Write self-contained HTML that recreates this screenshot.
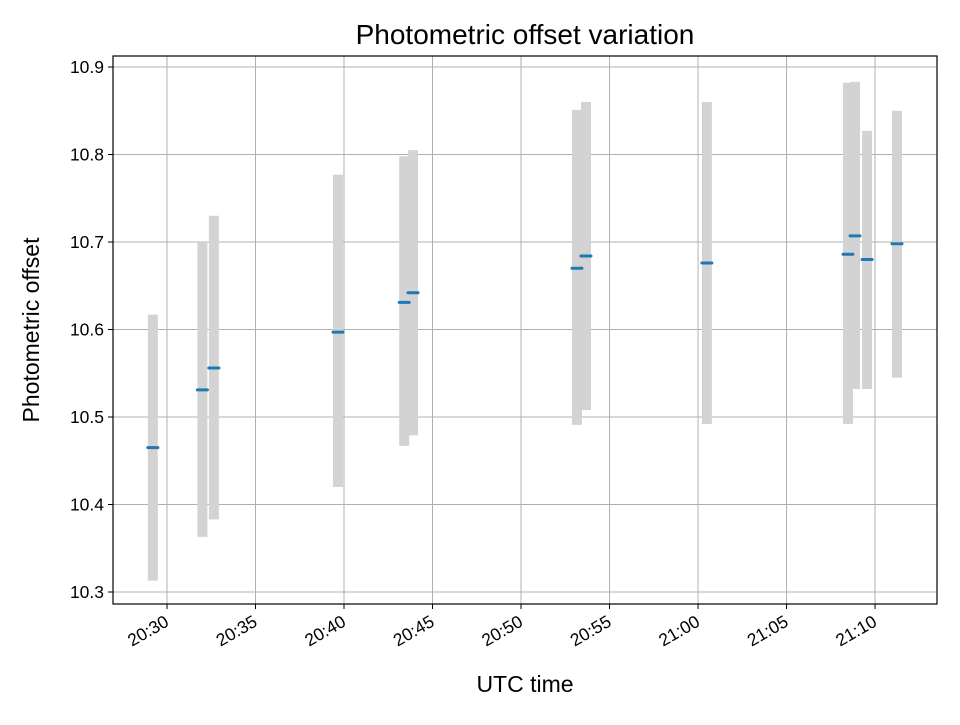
<!DOCTYPE html>
<html><head><meta charset="utf-8"><style>
body{margin:0;background:#fff}
svg text{font-family:"Liberation Sans","DejaVu Sans",sans-serif;fill:#000}
</style></head><body>
<svg id="chart" width="960" height="720" xmlns="http://www.w3.org/2000/svg">
<rect width="960" height="720" fill="#fff"/>
<g id="grid"></g>
<g id="bars"></g>
<g id="marks"></g>
<rect x="113" y="56" width="824" height="548" fill="none" stroke="#000" stroke-width="1.2"/>
<g id="ticks"></g>
<text x="525" y="44" font-size="28" text-anchor="middle">Photometric offset variation</text>
<text x="525" y="692" font-size="23" text-anchor="middle">UTC time</text>
<text x="39" y="330" font-size="23" text-anchor="middle" transform="rotate(-90 39 330)">Photometric offset</text>
</svg>
<script>
// minutes after 20:30 UTC
const times=[-0.8,2.0,2.65,9.66,13.4,13.9,23.16,23.67,30.5,38.47,38.87,39.55,41.24];
const values=[10.465,10.531,10.556,10.597,10.631,10.642,10.670,10.684,10.676,10.686,10.707,10.680,10.698];
const lows=[10.313,10.363,10.383,10.420,10.467,10.479,10.491,10.508,10.492,10.492,10.532,10.532,10.545];
const highs=[10.617,10.700,10.730,10.777,10.798,10.805,10.851,10.860,10.860,10.882,10.883,10.827,10.850];
const yTicks=[10.3,10.4,10.5,10.6,10.7,10.8,10.9];
const xTicks=[0,5,10,15,20,25,30,35,40];
const xTickLabels=["20:30","20:35","20:40","20:45","20:50","20:55","21:00","21:05","21:10"];
const X0=113,X1=937,Y0=604,Y1=56,xmin=-3.05,xmax=43.5,ymin=10.2863,ymax=10.9126;
const sx=m=>X0+(m-xmin)/(xmax-xmin)*(X1-X0);
const sy=v=>Y0-(v-ymin)/(ymax-ymin)*(Y0-Y1);
const NS="http://www.w3.org/2000/svg";
function mk(tag,parent,attrs){const e=document.createElementNS(NS,tag);for(const k in attrs)e.setAttribute(k,attrs[k]);document.getElementById(parent).appendChild(e);return e;}
yTicks.forEach((t,i)=>{const y=sy(t);
 let g=mk('line','grid',{x1:X0,x2:X1,y1:y,y2:y,stroke:'#b0b0b0','stroke-width':1});
 
 
 let tk=mk('line','ticks',{x1:X0-5,x2:X0,y1:y,y2:y,stroke:'#000'});
 
 
 let tx=mk('text','ticks',{x:X0-9,y:y+6,'font-size':'17.5','text-anchor':'end'});
 tx.textContent=t.toFixed(1);
 
 
});
xTicks.forEach((t,i)=>{const x=sx(t);
 let g=mk('line','grid',{x1:x,x2:x,y1:Y1,y2:Y0,stroke:'#b0b0b0','stroke-width':1});
 
 
 let tk=mk('line','ticks',{x1:x,x2:x,y1:Y0,y2:Y0+5,stroke:'#000'});
 
 
 let tx=mk('text','ticks',{x:x+3,y:Y0+21,'font-size':'17.5','text-anchor':'end',transform:`rotate(-30 ${x+3} ${Y0+21})`});
 tx.textContent=xTickLabels[i];
 
 
});
times.forEach((t,i)=>{const x=sx(t);
 let b=mk('rect','bars',{x:x-5,y:sy(highs[i]),width:10,height:sy(lows[i])-sy(highs[i]),fill:'#d3d3d3'});
 
 
 let m=mk('line','marks',{x1:x-5,x2:x+5,y1:sy(values[i]),y2:sy(values[i]),stroke:'#1f77b4','stroke-width':3,'stroke-linecap':'round'});
 
 
});
</script>
</body></html>
